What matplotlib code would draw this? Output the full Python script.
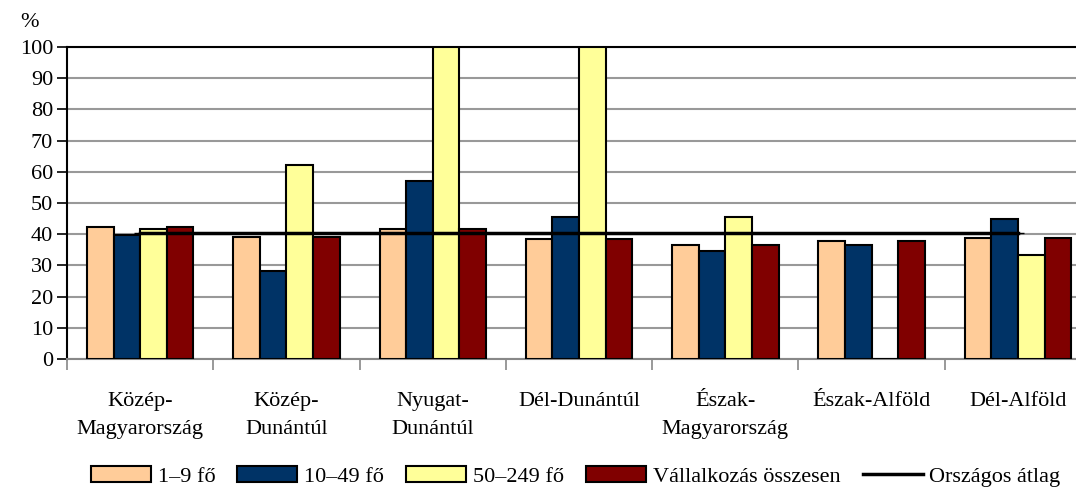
import matplotlib.pyplot as plt
import numpy as np
from matplotlib.ticker import FixedLocator

regions = ['Közép-\nMagyarország', 'Közép-\nDunántúl', 'Nyugat-\nDunántúl', 'Dél-Dunántúl',
           'Észak-\nMagyarország', 'Észak-Alföld', 'Dél-Alföld']
size_1_9 = [42.2, 39.0, 41.6, 38.4, 36.5, 37.9, 38.9]
size_10_49 = [39.7, 28.1, 57.0, 45.5, 34.6, 36.5, 44.9]
size_50_249 = [41.6, 62.2, 100.0, 100.0, 45.5, 0.0, 33.2]
total = [42.2, 39.0, 41.6, 38.4, 36.5, 37.9, 38.9]
national_avg = [40.5, 40.5, 40.5, 40.5, 40.5, 40.5, 40.5]

series = [
    ('1–9 fő', size_1_9, '#FFCC99'),
    ('10–49 fő', size_10_49, '#003366'),
    ('50–249 fő', size_50_249, '#FFFF99'),
    ('Vállalkozás összesen', total, '#800000'),
]

plt.rcParams['font.family'] = ['Liberation Serif', 'DejaVu Serif']
plt.rcParams['font.size'] = 16

fig = plt.figure(figsize=(10.76, 4.97), dpi=100)
ax = fig.add_axes([0.0623, 0.2777, 0.9517, 0.6277])

x = np.arange(len(regions))
w = 0.182
handles = []
for i, (name, vals, col) in enumerate(series):
    b = ax.bar(x + (i - 1.5) * w, vals, w, color=col, edgecolor='black', linewidth=1.5,
               label=name, zorder=3)
    handles.append(b)

line, = ax.plot(x, national_avg, color='black', lw=2.5, marker='_', markersize=8,
                label='Országos átlag', zorder=4)
handles.append(line)

ax.set_xlim(-0.5, len(regions) - 0.5)
ax.set_ylim(0, 100)
ax.set_yticks(range(0, 101, 10))
ax.yaxis.grid(True, color='#999999', lw=1.5, zorder=0)
ax.tick_params(axis='y', length=7, width=1.2, color='black', pad=3)

ax.xaxis.set_major_locator(FixedLocator(np.arange(len(regions) + 1) - 0.5))
ax.xaxis.set_minor_locator(FixedLocator(x))
ax.set_xticklabels([], minor=False)
ax.set_xticklabels(regions, minor=True, linespacing=1.6)
ax.tick_params(axis='x', which='major', length=8, width=1.2, color='#888888')
ax.tick_params(axis='x', which='minor', length=0, pad=24)

for s in ['left', 'top']:
    ax.spines[s].set_color('black')
    ax.spines[s].set_linewidth(1.5)
ax.spines['bottom'].set_color('#888888')
ax.spines['bottom'].set_linewidth(1.5)
ax.spines['right'].set_visible(False)

fig.text(0.019, 0.955, '%', fontsize=16, ha='left', va='center')

fig.legend(handles=handles, loc='lower center', bbox_to_anchor=(0.535, -0.02), ncol=5,
           frameon=False, handlelength=2.7, handleheight=0.7, handletextpad=0.3,
           columnspacing=1.0, fontsize=16)

fig.savefig('out.png', dpi=100)
